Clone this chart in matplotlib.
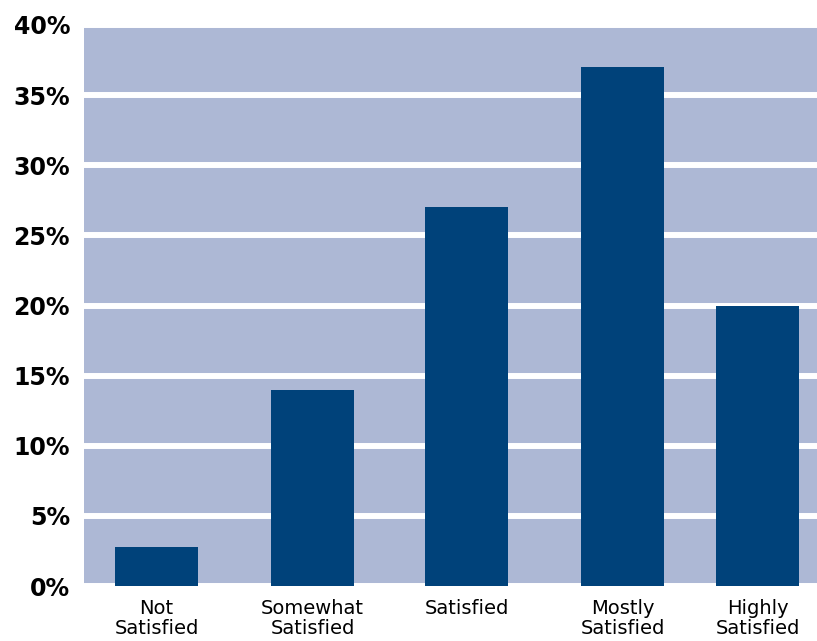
import matplotlib
matplotlib.use("Agg")
import matplotlib.pyplot as plt
from matplotlib.ticker import FuncFormatter

# data
categories = ["Not\nSatisfied", "Somewhat\nSatisfied", "Satisfied", "Mostly\nSatisfied", "Highly\nSatisfied"]
shares = [2.8, 14, 27, 37, 20]
y_ticks = [0, 5, 10, 15, 20, 25, 30, 35, 40]

# layout (bars are not evenly spaced in the original)
bar_x = [156.5, 312.5, 466.5, 622.5, 757.5]
bar_w = 83

BG = "#adb8d5"
BAR = "#00427a"

fig = plt.figure(figsize=(8.17, 6.41), dpi=100)
ax = fig.add_axes([84 / 817, 55 / 641, 733 / 817, 561 / 641])
ax.set_facecolor(BG)

ax.bar(bar_x, shares, width=bar_w, color=BAR, zorder=3)

ax.set_xlim(84, 817)
ax.set_ylim(0, 40)
ax.set_yticks(y_ticks)
ax.yaxis.set_major_formatter(FuncFormatter(lambda v, p: "%d%%" % v))
ax.set_xticks(bar_x)
ax.set_xticklabels(categories, fontsize=14, linespacing=1.1)

ax.grid(axis="y", color="white", linewidth=4.3, zorder=1)
ax.set_axisbelow(True)

for lbl in ax.get_yticklabels():
    lbl.set_fontsize(17)
    lbl.set_fontweight("bold")

ax.tick_params(axis="both", length=0)
ax.tick_params(axis="y", pad=10)
ax.tick_params(axis="x", pad=9)
for s in ax.spines.values():
    s.set_visible(False)

plt.savefig("out.png", dpi=100)
